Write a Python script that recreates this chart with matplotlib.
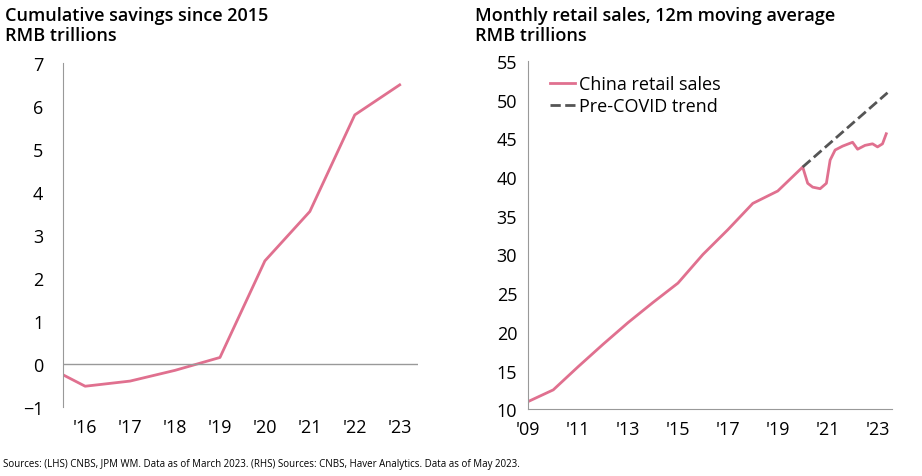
import matplotlib.pyplot as plt

PINK = "#e0708f"
GREY = "#555555"

# left: cumulative savings
sav_x = [2015.5, 2016, 2017, 2018, 2019, 2020, 2021, 2022, 2023]
sav_y = [-0.25, -0.52, -0.4, -0.15, 0.15, 2.4, 3.55, 5.8, 6.5]
sav_ticks = [2016, 2017, 2018, 2019, 2020, 2021, 2022, 2023]
sav_labels = ["'16", "'17", "'18", "'19", "'20", "'21", "'22", "'23"]

# right: retail sales
ret_x = [2009, 2010, 2011, 2012, 2013, 2014, 2015, 2016, 2017, 2018, 2018.5, 2019, 2020,
         2020.2, 2020.4, 2020.7, 2020.95, 2021.1, 2021.3, 2021.6, 2022, 2022.2, 2022.5,
         2022.8, 2023.0, 2023.2, 2023.35]
ret_y = [11, 12.5, 15.5, 18.4, 21.2, 23.8, 26.3, 30, 33.2, 36.6, 37.4, 38.2, 41.3,
         39.2, 38.7, 38.5, 39.2, 42.2, 43.5, 44.0, 44.5, 43.6, 44.1,
         44.3, 43.9, 44.3, 45.6]
trend_x = [2020, 2023.4]
trend_y = [41.3, 50.9]
ret_ticks = [2009, 2011, 2013, 2015, 2017, 2019, 2021, 2023]
ret_labels = ["'09", "'11", "'13", "'15", "'17", "'19", "'21", "'23"]

plt.rcParams["font.family"] = ["Open Sans", "DejaVu Sans"]
fig = plt.figure(figsize=(9.22, 4.77), dpi=100)

ax1 = fig.add_axes([0.068, 0.145, 0.385, 0.72])
ax1.plot(sav_x, sav_y, color=PINK, lw=2)
ax1.axhline(0, color="#999999", lw=1)
ax1.set_xlim(2015.5, 2023.4)
ax1.set_ylim(-1, 7)
ax1.set_xticks(sav_ticks, sav_labels)
ax1.set_yticks(range(-1, 8))
for s in ["top", "right", "bottom"]:
    ax1.spines[s].set_visible(False)
ax1.spines["left"].set_color("#999999")
ax1.tick_params(length=0, labelsize=13, pad=8)
ax1.tick_params(axis="y", pad=14)
fig.text(0.005, 0.985, "Cumulative savings since 2015\nRMB trillions", fontsize=13,
         fontweight="semibold", va="top", linespacing=1.1)

ax2 = fig.add_axes([0.573, 0.14, 0.395, 0.73])
ax2.plot(ret_x, ret_y, color=PINK, lw=2, label="China retail sales")
ax2.plot(trend_x, trend_y, color=GREY, lw=2, ls="--", label="Pre-COVID trend")
ax2.set_xlim(2009, 2023.6)
ax2.set_ylim(10, 55)
ax2.set_xticks(ret_ticks, ret_labels)
ax2.set_yticks(range(10, 56, 5))
for s in ["top", "right"]:
    ax2.spines[s].set_visible(False)
ax2.spines["left"].set_color("#999999")
ax2.spines["bottom"].set_color("#999999")
ax2.tick_params(length=0, labelsize=13, pad=8)
ax2.legend(loc="upper left", frameon=False, fontsize=13, handlelength=1.4,
           handletextpad=0.2, borderaxespad=0.2, labelspacing=0.2,
           bbox_to_anchor=(0.03, 0.99))
fig.text(0.515, 0.985, "Monthly retail sales, 12m moving average\nRMB trillions", fontsize=13,
         fontweight="semibold", va="top", linespacing=1.1)

fig.text(0.003, 0.02, "Sources: (LHS) CNBS, JPM WM. Data as of March 2023. (RHS) Sources: CNBS, Haver Analytics. Data as of May 2023.",
         fontsize=7)

fig.savefig("out.png", dpi=100)
